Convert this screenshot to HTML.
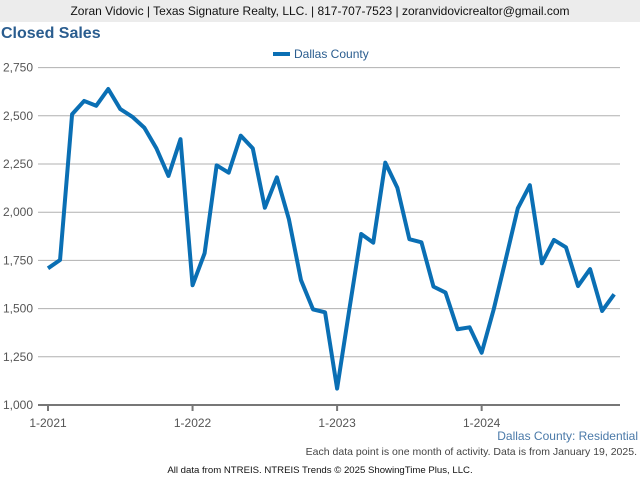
<!DOCTYPE html>
<html><head><meta charset="utf-8"><style>
body{margin:0;width:640px;height:480px;background:#fff;font-family:"Liberation Sans",sans-serif;overflow:hidden;position:relative}
.hdr{position:absolute;left:0;top:0;width:640px;height:22px;background:#ececec;text-align:center;font-size:12px;line-height:22px;color:#111}
.title{position:absolute;left:1px;top:25px;font-size:16px;font-weight:bold;color:#2a5d8f}
svg{position:absolute;left:0;top:0}
</style></head><body>
<div class="hdr">Zoran Vidovic | Texas Signature Realty, LLC. | 817-707-7523 | zoranvidovicrealtor@gmail.com</div>
<div class="title">Closed Sales</div>
<svg id="chart" width="640" height="480"></svg>
<script>
const categories=["1-2021","2-2021","3-2021","4-2021","5-2021","6-2021","7-2021","8-2021","9-2021","10-2021","11-2021","12-2021","1-2022","2-2022","3-2022","4-2022","5-2022","6-2022","7-2022","8-2022","9-2022","10-2022","11-2022","12-2022","1-2023","2-2023","3-2023","4-2023","5-2023","6-2023","7-2023","8-2023","9-2023","10-2023","11-2023","12-2023","1-2024","2-2024","3-2024","4-2024","5-2024","6-2024","7-2024","8-2024","9-2024","10-2024","11-2024","12-2024"];
const dallasValues=[1709,1752,2508,2577,2552,2639,2535,2495,2438,2331,2188,2379,1621,1787,2243,2205,2397,2331,2023,2181,1963,1648,1496,1481,1085,1490,1887,1842,2257,2127,1860,1844,1614,1583,1393,1403,1271,1496,1756,2020,2140,1735,1856,1818,1617,1705,1488,1574];
const yTicks=[1000,1250,1500,1750,2000,2250,2500,2750];
const yTickLabels=["1,000","1,250","1,500","1,750","2,000","2,250","2,500","2,750"];
const xTickIdx=[0,12,24,36];
const xTickLabels=["1-2021","1-2022","1-2023","1-2024"];
const svg=document.getElementById('chart');
const NS="http://www.w3.org/2000/svg";
const x0=48,dx=12.046,yBase=405,yPer=48.2/250,xR=620;
const X=i=>x0+i*dx;
const Y=v=>yBase-(v-1000)*yPer;
function mk(t,a){const e=document.createElementNS(NS,t);for(const k in a)e.setAttribute(k,a[k]);svg.appendChild(e);return e;}
yTicks.forEach((v,i)=>{
  const g=mk('line',{x1:38,x2:xR,y1:Y(v),y2:Y(v),stroke:i==0?'#777':'#b0b0b0','stroke-width':i==0?2:1});
  
  
  const t=mk('text',{x:33,y:Y(v)+4,'text-anchor':'end','font-size':'12',fill:'#555'});
  t.textContent=yTickLabels[i];
  
  
});
xTickIdx.forEach((idx,i)=>{
  const l=mk('line',{x1:X(idx),x2:X(idx),y1:yBase,y2:yBase+6,stroke:'#777','stroke-width':2});
  
  
  const t=mk('text',{x:X(idx),y:427,'text-anchor':'middle','font-size':'12',fill:'#555'});
  t.textContent=xTickLabels[i];
  
  
});
const p=mk('polyline',{points:dallasValues.map((v,i)=>X(i)+','+Y(v)).join(' '),fill:'none',stroke:'#0a6fb4','stroke-width':4,'stroke-linejoin':'round'});


const ll=mk('line',{x1:273,x2:290,y1:54,y2:54,stroke:'#0a6fb4','stroke-width':4});


const lt=mk('text',{x:294,y:58,'font-size':'12',fill:'#2a5d8f'});
lt.textContent='Dallas County';


const s1=mk('text',{x:638,y:440,'text-anchor':'end','font-size':'12',fill:'#4a79a8'});
s1.textContent='Dallas County: Residential';


const s2=mk('text',{x:637,y:455,'text-anchor':'end','font-size':'10.5',fill:'#444'});
s2.textContent='Each data point is one month of activity. Data is from January 19, 2025.';


const s3=mk('text',{x:320,y:473,'text-anchor':'middle','font-size':'9.6',fill:'#111'});
s3.textContent='All data from NTREIS. NTREIS Trends © 2025 ShowingTime Plus, LLC.';


</script>
</body></html>
